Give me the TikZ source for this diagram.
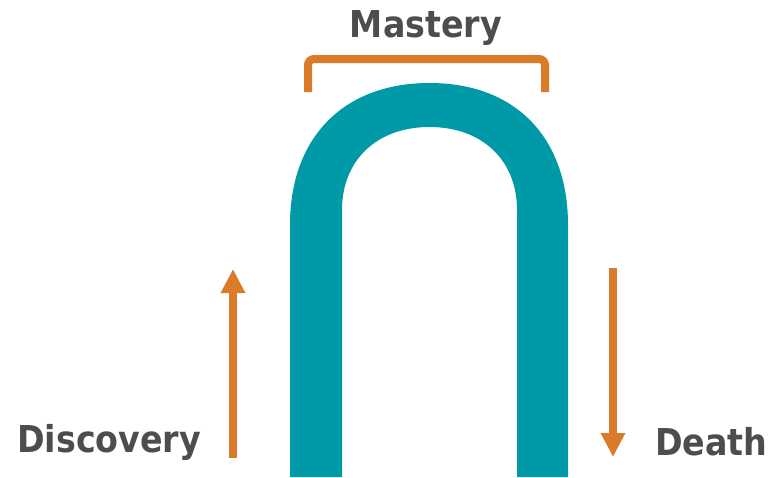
\documentclass[tikz,border=0pt]{standalone}
\usepackage{fontspec}
\setmainfont{DejaVu Sans Condensed}
\usetikzlibrary{arrows.meta}
\definecolor{archteal}{RGB}{0,153,168}
\definecolor{accentorange}{RGB}{217,123,41}
\definecolor{labelgrey}{RGB}{77,77,77}
\tikzset{
  lbl/.style={font=\fontsize{37}{40}\selectfont\bfseries, text=labelgrey, inner sep=0pt},
  arch/.style={fill=archteal, draw=none},
  bracket/.style={draw=accentorange, line width=8pt, rounded corners=6pt},
  flow/.style={draw=accentorange, line width=8pt, -{Triangle[width=23pt,length=24pt]}}
}
\begin{document}
\begin{tikzpicture}[x=1pt,y=-1pt]
\useasboundingbox (0,0) rectangle (771,477);
% arch (filled band)
\coordinate (oL) at (290,477);
\coordinate (oR) at (568,477);
\coordinate (iR) at (517,477);
\coordinate (iL) at (342,477);
\fill[arch] (oL) -- (290,225) .. controls (290,138) and (343,83) .. (429.5,83)
  .. controls (516,83) and (568,138) .. (568,225) -- (oR) -- (iR)
  -- (517,210) .. controls (517,160) and (482,127) .. (429.5,127)
  .. controls (377,127) and (342,160) .. (342,210) -- (iL) -- cycle;
% bracket
\coordinate (bL) at (308,92);
\coordinate (bR) at (545,92);
\draw[bracket] (bL) -- (308,59) -- (545,59) -- (bR);
% labels
\node[lbl, anchor=base] (mastery) at (426,37) {Mastery};
\node[lbl, anchor=base west] (discovery) at (17,452) {Discovery};
\node[lbl, anchor=base west] (death) at (655,455) {Death};
% arrows
\coordinate (upS) at (233,458);
\coordinate (upE) at (233,269);
\coordinate (dnS) at (613,268);
\coordinate (dnE) at (613,457);
\draw[flow] (upS) -- (upE);
\draw[flow] (dnS) -- (dnE);
\end{tikzpicture}
\end{document}
